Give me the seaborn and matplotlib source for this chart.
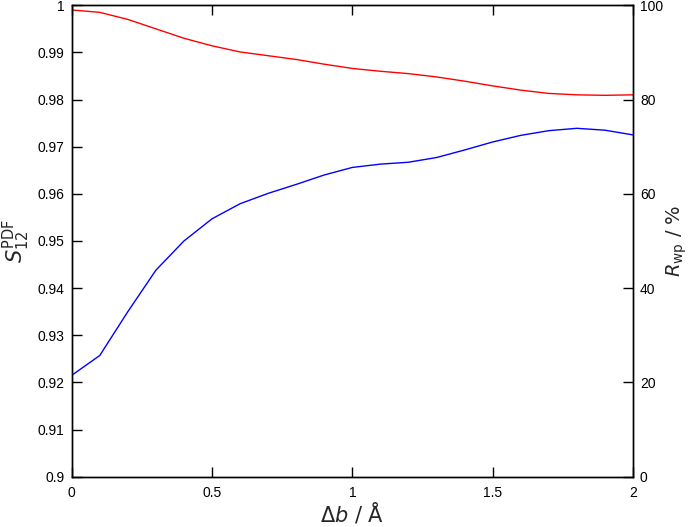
import numpy as np
import pandas as pd
import seaborn as sns
import matplotlib.pyplot as plt

# displacement (Angstrom)
delta_b = [0.0, 0.1, 0.2, 0.3, 0.4, 0.5, 0.6, 0.7, 0.8, 0.9, 1.0,
           1.1, 1.2, 1.3, 1.4, 1.5, 1.6, 1.7, 1.8, 1.9, 2.0]

# similarity index S12 (left axis)
s12 = [0.9990, 0.9985, 0.9970, 0.9950, 0.9930, 0.9914, 0.9901, 0.9893,
       0.9885, 0.9875, 0.9866, 0.9860, 0.9855, 0.9848, 0.9839, 0.9829,
       0.9820, 0.9813, 0.9810, 0.9809, 0.9810]

# Rwp in percent (right axis)
rwp = [21.5, 25.7, 35.0, 43.8, 50.0, 54.7, 57.9, 60.1, 62.0, 64.0, 65.6,
       66.3, 66.7, 67.7, 69.3, 71.0, 72.4, 73.4, 73.9, 73.5, 72.5]

df = pd.DataFrame({"db": delta_b, "s12": s12, "rwp": rwp})

sns.set_style("ticks")
plt.rcParams["font.family"] = ["Liberation Sans", "DejaVu Sans"]
plt.rcParams["mathtext.fontset"] = "dejavusans"

fig = plt.figure(figsize=(6.92, 5.27), dpi=100)
ax = fig.add_axes([0.1036, 0.0955, 0.8111, 0.8945])
ax2 = ax.twinx()

sns.lineplot(data=df, x="db", y="s12", ax=ax, color="#ff0000", lw=1.0)
sns.lineplot(data=df, x="db", y="rwp", ax=ax2, color="#0000ff", lw=1.0)

ax.set_xlim(0, 2)
ax.set_ylim(0.9, 1.0)
ax2.set_ylim(0, 100)

ax.set_xticks([0, 0.5, 1, 1.5, 2])
ax.set_xticklabels(["0", "0.5", "1", "1.5", "2"])
ax.set_yticks(np.round(np.arange(0.9, 1.001, 0.01), 2))
ax.set_yticklabels(["0.9", "0.91", "0.92", "0.93", "0.94", "0.95",
                    "0.96", "0.97", "0.98", "0.99", "1"])
ax2.set_yticks([0, 20, 40, 60, 80, 100])

tick_kw = dict(direction="in", length=7, width=1, labelsize=10,
               colors="black")
ax.tick_params(axis="x", top=True, pad=7, **tick_kw)
ax.tick_params(axis="y", pad=5, **tick_kw)
ax2.tick_params(axis="y", pad=5, **tick_kw)

for a in (ax, ax2):
    for sp in a.spines.values():
        sp.set_linewidth(1.0)
        sp.set_color("black")

lab_font = {"family": "DejaVu Sans", "size": 15}
ax.set_xlabel(r"$\Delta b$ / Å", fontdict=lab_font, labelpad=0)
ax.set_ylabel(r"$S_{12}^{\mathrm{PDF}}$", fontdict=lab_font, labelpad=4)
ax2.set_ylabel(r"$R_{\mathrm{wp}}$ / %", fontdict={"family": "DejaVu Sans",
               "size": 14}, labelpad=1)

fig.savefig("out.png", dpi=100)
